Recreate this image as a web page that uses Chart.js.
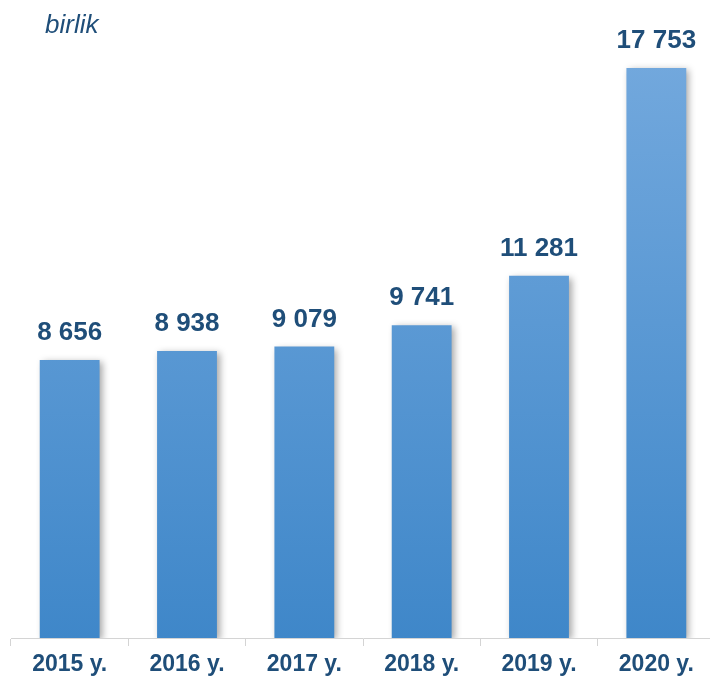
<!DOCTYPE html>
<html>
<head>
<meta charset="utf-8">
<script src="https://cdn.jsdelivr.net/npm/chart.js@4"></script>
<style>
  html, body { margin: 0; padding: 0; background: #fff; overflow: hidden; }
  #wrap { position: relative; width: 716px; height: 678px; }
  #unit { position: absolute; left: 45px; top: 9px; font: italic 26px "Liberation Sans", Arial, sans-serif; color: #1f4e79; }
</style>
</head>
<body>
<div id="wrap">
  <canvas id="chart" width="716" height="678"></canvas>
  <div id="unit">birlik</div>
</div>
<script>
const years = ["2015 y.", "2016 y.", "2017 y.", "2018 y.", "2019 y.", "2020 y."];
const counts = [8656, 8938, 9079, 9741, 11281, 17753];
const countLabels = ["8 656", "8 938", "9 079", "9 741", "11 281", "17 753"];

const darkBlue = "#1f4e79";

function barFill(context) {
  const chart = context.chart;
  const area = chart.chartArea;
  if (!area) return "#5b9bd5";
  const g = chart.ctx.createLinearGradient(0, area.top + 50, 0, area.bottom);
  g.addColorStop(0, "#72a8dd");
  g.addColorStop(1, "#3f87c9");
  return g;
}

// soft grey shadow behind the bars
const shadowPlugin = {
  id: "barShadow",
  beforeDatasetDraw(chart) {
    const ctx = chart.ctx;
    ctx.save();
    ctx.shadowColor = "rgba(0,0,0,0.35)";
    ctx.shadowBlur = 7;
    ctx.shadowOffsetX = 3;
    ctx.shadowOffsetY = 2;
  },
  afterDatasetDraw(chart) {
    chart.ctx.restore();
  }
};

const valueLabels = {
  id: "valueLabels",
  afterDatasetsDraw(chart) {
    const ctx = chart.ctx;
    const meta = chart.getDatasetMeta(0);
    ctx.save();
    ctx.font = "bold 26px 'Liberation Sans', Arial, sans-serif";
    ctx.fillStyle = darkBlue;
    ctx.textAlign = "center";
    ctx.textBaseline = "middle";
    meta.data.forEach((bar, i) => {
      ctx.fillText(countLabels[i], bar.x, bar.y - 27);
    });
    ctx.restore();
  }
};

new Chart(document.getElementById("chart"), {
  type: "bar",
  data: {
    labels: years,
    datasets: [{
      data: counts,
      backgroundColor: barFill,
      borderWidth: 0,
      barPercentage: 0.51,
      categoryPercentage: 1
    }]
  },
  options: {
    responsive: false,
    animation: false,
    layout: { padding: { left: 11, right: 1, top: 12, bottom: 0 } },
    plugins: { legend: { display: false }, tooltip: { enabled: false } },
    scales: {
      x: {
        afterFit(scale) { scale.height = 40; },
        grid: { display: true, drawOnChartArea: false, drawTicks: true, tickLength: 8, color: "#d4d4d4", offset: true },
        border: { display: true, color: "#d4d4d4", width: 1 },
        ticks: { color: darkBlue, font: { family: "'Liberation Sans', Arial, sans-serif", size: 23, weight: "bold" }, padding: 5, maxRotation: 0 }
      },
      y: {
        display: false,
        min: 0,
        max: 19500
      }
    }
  },
  plugins: [shadowPlugin, valueLabels]
});
</script>
</body>
</html>
